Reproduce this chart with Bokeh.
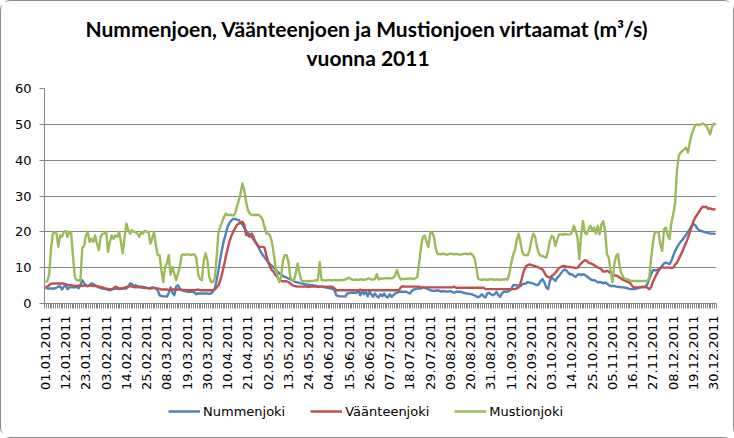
import math
import pandas as pd
from bokeh.plotting import figure
from bokeh.layouts import column
from bokeh.models import (ColumnDataSource, FixedTicker, Range1d, Legend,
                          LegendItem, Title)
from bokeh.embed import file_html
from bokeh.resources import INLINE

# ---- data -------------------------------------------------------------
dates = pd.date_range("2011-01-01", "2011-12-31", freq="D")
day = list(range(len(dates)))
date_labels = [d.strftime("%d.%m.%Y") for d in dates]
label_step = 11
tick_days = day[::label_step]
y_ticks = [0, 10, 20, 30, 40, 50, 60]

title_line1 = "Nummenjoen, Väänteenjoen ja Mustionjoen virtaamat (m³/s)"
title_line2 = "vuonna 2011"
series_names = ["Nummenjoki", "Väänteenjoki", "Mustionjoki"]

nummenjoki = [
    4.5, 4.2, 4.2, 4.2, 4.2, 4.2, 4.4, 4.7, 4.8, 3.9,
    4.7, 5.1, 4.0, 4.5, 4.5, 4.5, 4.5, 4.7, 4.2, 5.1,
    6.5, 5.6, 5.1, 4.8, 5.1, 5.6, 5.4, 5.1, 4.8, 4.5,
    4.3, 4.2, 4.1, 4.0, 3.8, 3.7, 3.9, 4.0, 4.2, 4.1,
    4.0, 4.2, 4.2, 4.2, 4.2, 4.7, 5.6, 5.4, 4.8, 5.1,
    4.8, 4.5, 4.7, 4.6, 4.5, 4.4, 4.2, 4.3, 4.5, 4.4,
    4.2, 3.7, 2.3, 2.1, 2.0, 2.0, 1.9, 3.0, 4.5, 3.0,
    2.3, 4.7, 5.1, 4.2, 3.7, 3.5, 3.5, 3.3, 3.3, 3.3,
    3.3, 3.0, 2.6, 2.8, 2.8, 2.8, 2.8, 2.8, 2.8, 2.7,
    2.8, 3.3, 4.2, 6.5, 9.3, 12.6, 15.3, 17.7, 19.5, 21.5,
    22.5, 23.2, 23.6, 23.6, 23.4, 23.3, 22.6, 22.0, 21.2, 20.3,
    19.7, 19.2, 18.7, 17.9, 17.2, 16.6, 15.4, 14.4, 13.6, 12.9,
    12.2, 11.5, 11.0, 10.5, 10.0, 9.5, 8.9, 8.4, 8.0, 7.7,
    7.4, 7.2, 7.0, 6.8, 6.5, 6.2, 6.0, 5.9, 5.7, 5.6,
    5.5, 5.3, 5.3, 5.2, 5.1, 5.1, 5.0, 4.9, 4.8, 4.7,
    4.7, 4.6, 4.5, 4.4, 4.3, 4.2, 4.1, 3.7, 2.3, 2.1,
    2.0, 2.0, 2.0, 2.0, 2.8, 2.9, 3.0, 3.0, 3.0, 3.0,
    3.7, 2.3, 3.5, 2.6, 3.3, 2.0, 3.3, 2.6, 1.9, 2.8,
    2.0, 1.7, 2.6, 2.0, 2.8, 1.9, 1.7, 2.6, 1.9, 2.3,
    2.8, 3.0, 3.3, 3.3, 3.3, 3.3, 3.3, 3.0, 2.8, 3.5,
    3.9, 4.0, 4.2, 4.2, 4.2, 4.5, 4.4, 4.2, 4.0, 3.7,
    3.6, 3.5, 3.6, 3.7, 3.5, 3.3, 3.5, 3.4, 3.3, 3.4,
    3.5, 3.2, 3.0, 3.3, 3.3, 3.3, 3.2, 3.0, 2.9, 2.8,
    2.7, 2.6, 2.5, 2.3, 2.0, 1.7, 2.0, 2.6, 2.0, 1.7,
    2.8, 3.0, 2.6, 2.3, 2.6, 3.3, 2.3, 1.9, 2.8, 3.3,
    3.3, 3.3, 3.5, 4.0, 5.1, 5.1, 5.1, 5.0, 4.8, 5.4,
    5.5, 5.6, 6.0, 5.8, 5.7, 5.6, 5.3, 5.1, 5.4, 6.3,
    6.8, 5.9, 4.5, 4.0, 6.3, 7.2, 6.8, 6.3, 7.2, 7.7,
    8.4, 9.1, 9.5, 9.2, 8.6, 8.1, 8.2, 7.7, 7.4, 8.0,
    8.2, 7.9, 8.2, 8.0, 7.6, 7.2, 6.8, 6.5, 6.5, 6.3,
    5.9, 6.0, 5.9, 5.6, 5.9, 5.6, 5.1, 4.9, 4.9, 4.9,
    4.7, 4.6, 4.6, 4.5, 4.5, 4.4, 4.3, 4.1, 4.0, 4.0,
    4.0, 4.2, 4.3, 4.5, 4.6, 4.6, 4.8, 5.4, 6.8, 8.2,
    9.3, 9.3, 9.3, 9.6, 9.9, 10.5, 11.2, 11.4, 11.2, 11.0,
    11.9, 13.3, 14.7, 15.6, 16.5, 17.2, 17.8, 18.5, 19.2, 20.0,
    20.7, 21.7, 22.2, 21.8, 21.0, 20.5, 20.3, 20.1, 20.0, 19.8,
    19.7, 19.5, 19.5, 19.5, 19.4,
]

vaanteenjoki = [
    4.7, 4.7, 5.1, 5.5, 5.6, 5.6, 5.6, 5.6, 5.6, 5.6,
    5.5, 5.4, 5.2, 5.1, 5.1, 5.0, 4.9, 4.9, 5.0, 5.0,
    4.9, 5.0, 5.0, 4.9, 5.0, 5.0, 4.9, 4.9, 4.8, 4.7,
    4.6, 4.5, 4.3, 4.2, 4.0, 4.0, 4.0, 4.2, 4.7, 4.5,
    4.2, 4.2, 4.2, 4.4, 4.6, 4.8, 4.8, 4.7, 4.6, 4.5,
    4.6, 4.7, 4.5, 4.4, 4.3, 4.3, 4.3, 4.2, 4.3, 4.3,
    4.3, 4.2, 4.1, 3.9, 3.9, 3.9, 3.9, 3.8, 3.9, 3.9,
    3.9, 3.8, 3.9, 3.9, 3.8, 3.8, 3.7, 3.7, 3.7, 3.7,
    3.7, 3.7, 3.8, 3.9, 3.7, 3.7, 3.7, 3.7, 3.7, 3.7,
    3.7, 3.7, 3.9, 4.5, 5.1, 6.5, 8.4, 10.7, 13.2, 15.3,
    17.4, 18.8, 20.0, 21.0, 21.9, 22.3, 22.6, 22.8, 22.0, 19.1,
    19.1, 18.6, 19.5, 18.6, 17.2, 16.3, 15.8, 15.8, 15.8, 15.6,
    13.5, 11.6, 10.2, 9.3, 8.8, 7.9, 7.4, 6.5, 6.3, 6.2,
    6.2, 6.2, 6.0, 5.6, 5.1, 4.9, 4.8, 4.7, 4.7, 4.7,
    4.7, 4.7, 4.7, 4.6, 4.7, 4.7, 4.7, 4.7, 4.6, 4.7,
    4.7, 4.7, 4.7, 4.6, 4.7, 4.7, 4.6, 4.2, 3.7, 3.7,
    3.7, 3.7, 3.7, 3.7, 3.7, 3.7, 3.7, 3.7, 3.7, 3.7,
    3.7, 3.9, 3.7, 3.7, 3.7, 3.7, 3.7, 3.7, 3.7, 3.7,
    3.7, 3.7, 3.7, 3.7, 3.7, 3.7, 3.7, 3.7, 3.7, 3.7,
    3.7, 3.7, 3.7, 4.5, 4.8, 4.7, 4.7, 4.7, 4.7, 4.7,
    4.7, 4.7, 4.7, 4.7, 4.5, 4.5, 4.5, 4.5, 4.5, 4.5,
    4.5, 4.5, 4.5, 4.5, 4.5, 4.5, 4.5, 4.5, 4.5, 4.5,
    4.5, 4.5, 4.7, 4.4, 4.4, 4.4, 4.4, 4.4, 4.4, 4.4,
    4.4, 4.4, 4.4, 4.4, 4.4, 4.4, 4.4, 4.4, 4.4, 4.0,
    4.0, 4.0, 4.0, 4.0, 4.0, 4.0, 4.0, 4.0, 4.0, 4.0,
    4.0, 4.0, 4.0, 4.0, 4.0, 4.0, 4.2, 4.5, 5.6, 7.4,
    9.3, 10.4, 10.7, 10.9, 10.7, 10.6, 10.4, 10.2, 10.0, 9.8,
    9.5, 8.6, 7.7, 7.4, 7.2, 7.7, 8.0, 8.6, 9.3, 9.9,
    10.2, 10.4, 10.5, 10.3, 10.2, 10.2, 10.1, 10.0, 9.9, 10.0,
    10.6, 11.2, 11.7, 12.1, 11.9, 11.4, 11.2, 11.0, 10.7, 10.4,
    10.0, 9.9, 9.5, 8.9, 8.9, 9.1, 8.9, 8.4, 8.0, 7.8,
    7.8, 7.6, 7.2, 6.9, 6.5, 6.3, 6.1, 5.9, 5.4, 4.7,
    4.5, 4.5, 4.5, 4.5, 4.6, 4.6, 4.6, 4.4, 4.0, 4.6,
    6.1, 7.2, 8.2, 9.1, 9.9, 10.0, 10.0, 10.0, 10.0, 10.0,
    9.9, 10.0, 10.8, 11.4, 12.4, 13.5, 14.6, 15.8, 17.0, 18.3,
    19.8, 21.3, 23.0, 24.0, 24.8, 25.6, 26.4, 27.0, 26.9, 27.0,
    26.4, 26.6, 26.3, 26.3, 26.2,
]

mustionjoki = [
    6.0, 6.2, 8.0, 15.0, 19.5, 20.0, 19.5, 15.8, 19.0, 18.6,
    20.0, 20.3, 18.6, 20.0, 19.5, 13.0, 7.4, 6.5, 6.5, 6.3,
    15.5, 16.0, 19.0, 20.0, 17.2, 18.1, 17.2, 19.0, 16.7, 14.9,
    18.6, 19.5, 19.5, 20.0, 14.4, 17.2, 19.0, 18.1, 19.0, 18.6,
    20.0, 17.2, 14.0, 18.6, 22.3, 20.5, 19.5, 20.5, 20.0, 20.0,
    19.5, 18.6, 20.0, 19.5, 20.3, 20.0, 20.0, 16.7, 18.1, 20.0,
    16.3, 13.5, 13.5, 9.3, 6.0, 10.2, 11.2, 13.5, 8.0, 10.2,
    8.4, 6.5, 8.4, 10.2, 13.5, 13.7, 13.6, 13.7, 13.7, 13.5,
    13.7, 13.7, 12.6, 8.0, 6.8, 6.5, 12.0, 14.0, 12.0, 7.4,
    6.0, 6.0, 7.0, 13.0, 20.0, 21.4, 22.8, 24.2, 25.1, 24.7,
    24.7, 24.7, 24.5, 25.1, 27.0, 28.8, 30.7, 33.5, 31.6, 28.4,
    26.0, 25.1, 24.7, 24.7, 24.7, 24.7, 24.7, 24.2, 23.3, 21.4,
    19.5, 19.5, 19.0, 17.2, 14.0, 10.2, 7.9, 6.0, 7.4, 12.0,
    13.5, 13.5, 11.6, 7.4, 6.5, 6.5, 8.4, 11.2, 8.4, 6.5,
    6.2, 6.2, 6.3, 6.2, 6.3, 6.3, 6.4, 6.5, 6.5, 11.6,
    6.5, 6.5, 6.4, 6.5, 6.6, 6.5, 6.5, 6.6, 6.5, 6.5,
    6.6, 6.5, 6.6, 6.7, 7.0, 7.2, 6.8, 6.6, 6.6, 6.7,
    6.6, 6.7, 6.7, 6.6, 6.7, 6.9, 7.0, 6.7, 6.7, 6.8,
    8.2, 6.7, 7.0, 6.9, 7.0, 7.0, 7.1, 7.0, 7.0, 7.2,
    7.9, 9.3, 7.6, 6.7, 6.9, 6.8, 6.9, 6.9, 7.0, 6.9,
    6.9, 7.0, 7.4, 11.2, 15.8, 18.6, 19.0, 17.2, 15.8, 19.5,
    20.0, 18.6, 15.3, 13.8, 13.8, 13.7, 13.9, 13.8, 13.6, 13.8,
    13.9, 13.8, 13.7, 13.8, 13.8, 13.6, 13.7, 13.8, 13.9, 13.8,
    13.8, 14.0, 13.5, 12.8, 10.2, 7.0, 6.7, 6.6, 6.7, 6.7,
    6.6, 6.7, 6.8, 6.7, 6.6, 6.7, 6.7, 6.6, 6.7, 6.7,
    6.8, 6.7, 8.4, 11.2, 13.5, 14.9, 17.7, 19.5, 17.2, 14.4,
    13.5, 13.5, 13.5, 14.9, 17.7, 19.5, 18.6, 15.8, 14.0, 13.3,
    13.3, 13.0, 12.8, 14.7, 17.5, 18.9, 18.4, 16.1, 17.9, 19.3,
    19.3, 19.2, 19.4, 19.3, 19.3, 19.3, 19.8, 21.7, 20.3, 18.4,
    12.4, 19.3, 23.0, 19.8, 19.3, 20.7, 21.7, 20.3, 21.2, 19.5,
    21.7, 19.3, 22.1, 23.0, 20.3, 13.8, 12.8, 9.1, 5.9, 11.0,
    13.3, 13.8, 10.0, 8.2, 7.2, 6.8, 6.8, 6.5, 6.3, 6.3,
    6.3, 6.3, 6.3, 6.3, 6.3, 6.3, 6.3, 6.3, 7.2, 12.8,
    17.0, 20.0, 20.0, 19.8, 16.5, 14.7, 20.7, 21.2, 19.0, 18.0,
    22.6, 24.9, 28.0, 37.0, 41.2, 42.1, 42.6, 43.0, 43.5, 42.1,
    44.9, 47.2, 48.6, 49.8, 50.0, 49.8, 50.0, 50.2, 50.0, 49.5,
    48.6, 47.2, 49.1, 50.2, 50.0,
]

assert len(nummenjoki) == len(vaanteenjoki) == len(mustionjoki) == len(day)

columns = ["nummenjoki", "vaanteenjoki", "mustionjoki"]
colors = ["#4F81BD", "#C0504D", "#9BBB59"]
grid_color = "#868686"
text_font = "DejaVu Sans"

source = ColumnDataSource(dict(day=day, nummenjoki=nummenjoki,
                               vaanteenjoki=vaanteenjoki,
                               mustionjoki=mustionjoki))

# ---- main chart -------------------------------------------------------
p = figure(width=732, height=395, output_backend="svg", toolbar_location=None,
           x_range=Range1d(-0.5, len(day) - 0.5), y_range=Range1d(0, 60),
           min_border_left=43, min_border_right=17,
           min_border_top=87, min_border_bottom=93)
p.title.visible = False
p.outline_line_color = None
p.background_fill_color = "white"
p.border_fill_color = "white"

for col, color in zip(columns, colors):
    p.line(x="day", y=col, source=source, line_color=color, line_width=2.4,
           line_join="round")

# y axis
p.yaxis.ticker = FixedTicker(ticks=y_ticks)
p.yaxis.axis_line_color = grid_color
p.yaxis.major_tick_line_color = grid_color
p.yaxis.major_tick_out = 5
p.yaxis.major_tick_in = 0
p.yaxis.minor_tick_line_color = None
p.yaxis.major_label_standoff = 8
p.yaxis.major_label_text_font = text_font
p.yaxis.major_label_text_font_size = "13px"
p.yaxis.major_label_text_color = "black"

# x axis
boundaries = [d - 0.5 for d in range(len(day) + 1)]
p.xaxis.ticker = FixedTicker(ticks=tick_days, minor_ticks=boundaries)
p.xaxis.major_label_overrides = {d: date_labels[d] for d in tick_days}
p.xaxis.major_label_orientation = math.pi / 2
p.xaxis.axis_line_color = grid_color
p.xaxis.major_tick_out = 0
p.xaxis.major_tick_in = 0
p.xaxis.minor_tick_out = 5
p.xaxis.minor_tick_in = 0
p.xaxis.minor_tick_line_color = grid_color
p.xaxis.major_label_standoff = 7
p.xaxis.major_label_text_font = text_font
p.xaxis.major_label_text_font_size = "13px"
p.xaxis.major_label_text_color = "black"

p.xgrid.grid_line_color = None
p.ygrid.ticker = FixedTicker(ticks=y_ticks)
p.ygrid.grid_line_color = grid_color

# titles: spacer closest to the frame, then line 2, then line 1
p.add_layout(Title(text=" ", text_font="Lato", text_font_size="14px",
                   standoff=0), "above")
p.add_layout(Title(text=title_line2, align="left", offset=262, standoff=0,
                   text_font="Lato", text_font_style="bold",
                   text_font_size="21px", text_color="black"), "above")
p.add_layout(Title(text=title_line1, align="left", offset=41, standoff=4,
                   text_font="Lato", text_font_style="bold",
                   text_font_size="21px", text_color="black"), "above")

# ---- legend strip (its lines lie outside its visible range) -----------
pl = figure(width=732, height=41, output_backend="svg", toolbar_location=None,
            x_range=Range1d(-0.5, len(day) - 0.5), y_range=Range1d(900, 901),
            x_axis_type=None, y_axis_type=None,
            min_border_left=0, min_border_right=0,
            min_border_top=0, min_border_bottom=0)
pl.title.visible = False
pl.outline_line_color = None
pl.background_fill_color = "white"
pl.border_fill_color = "white"
pl.xgrid.visible = False
pl.ygrid.visible = False

legend_renderers = [pl.line(x="day", y=col, source=source, line_color=c,
                            line_width=2.4)
                    for col, c in zip(columns, colors)]
legend = Legend(items=[LegendItem(label=n, renderers=[r])
                       for n, r in zip(series_names, legend_renderers)],
                orientation="horizontal", location=(124, 16),
                glyph_width=32, label_standoff=3, spacing=25,
                padding=0, margin=0, border_line_color=None,
                background_fill_alpha=0,
                label_text_font=text_font, label_text_font_size="13px",
                label_text_color="black")
pl.add_layout(legend)

layout = column(p, pl, spacing=0,
                styles={"border": "1px solid #8c8c8c", "border-radius": "10px"})

open("out.html", "w").write(file_html(layout, INLINE))
